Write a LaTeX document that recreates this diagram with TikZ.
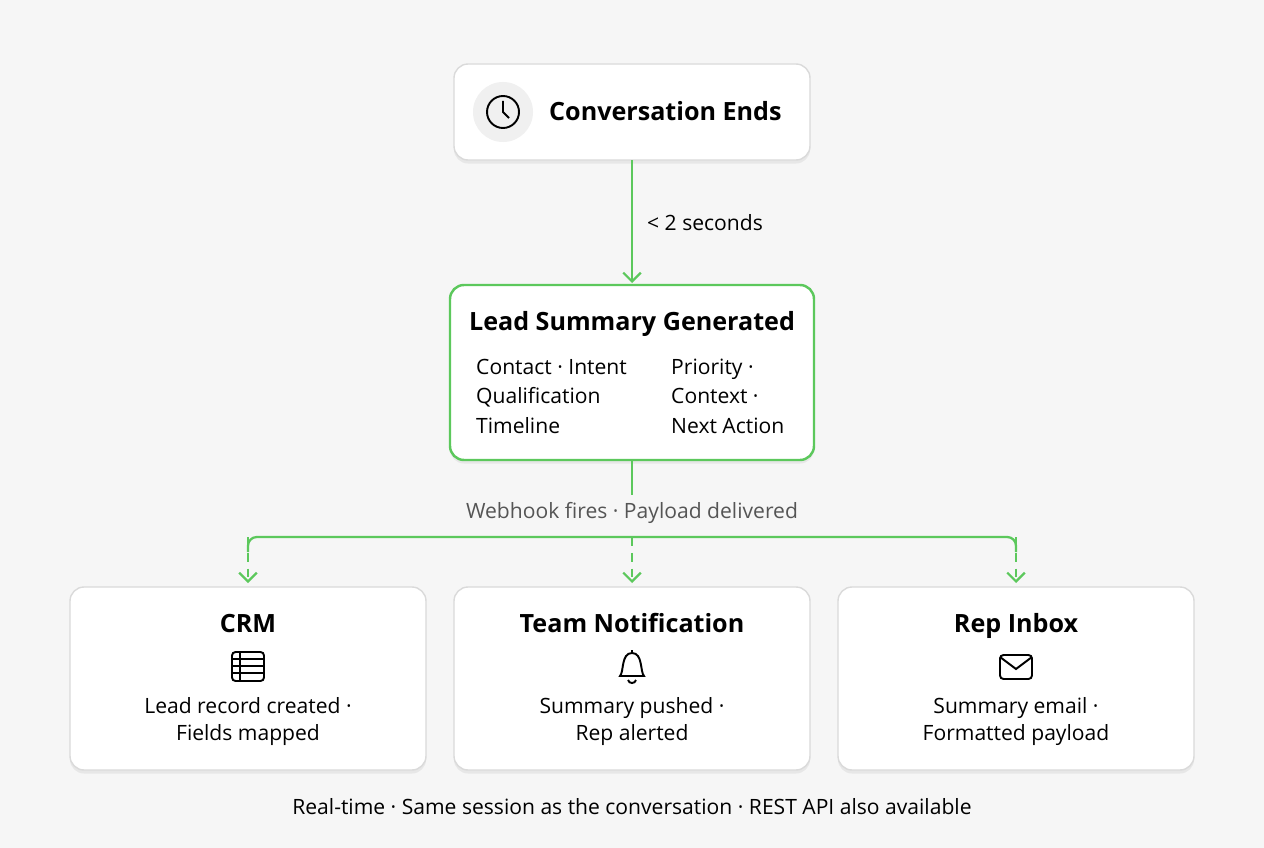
\documentclass[tikz,border=0pt]{standalone}
\usepackage{fontspec}
\setmainfont{Open Sans}
\usetikzlibrary{positioning,shadows,arrows.meta}
\definecolor{bggray}{HTML}{F6F6F6}
\definecolor{flowgreen}{HTML}{5CC85C}
\definecolor{boxline}{HTML}{DADADA}
\definecolor{subgray}{HTML}{555555}
\tikzset{
  card/.style={draw=boxline, fill=white, rounded corners=8pt, line width=0.8pt,
    drop shadow={opacity=0.12, shadow xshift=0pt, shadow yshift=-2pt}},
  greencard/.style={card, draw=flowgreen, line width=1.4pt},
  flow/.style={draw=flowgreen, line width=1.3pt},
  tip/.style={-{Straight Barb[length=5pt,width=10pt]}},
  title/.style={font=\fontsize{14.3}{17}\selectfont\bfseries, text height=2ex, text depth=0.5ex},
  txt/.style={font=\fontsize{12}{15}\selectfont, text height=1.8ex, text depth=0.5ex},
  body/.style={txt, align=left, anchor=west},
  icon/.style={line width=1.1pt, black}
}
\begin{document}
\begin{tikzpicture}[x=0.02cm,y=-0.02cm]
\fill[bggray] (0,0) rectangle (1264,848);

% top card
\path[card] (454,64) rectangle (810,160);
\fill[black!6] (503,112) circle (30);
\draw[icon] (503,112) circle (16);
\draw[icon] (503,101) -- (503,112) -- (509,118);
\node[title, anchor=west] (ends) at (543,113) {Conversation Ends};
\coordinate (endsbot) at (632,160);

% summary card
\path[greencard] (450,285) rectangle (814,460);
\node[title] (summary) at (632,323) {Lead Summary Generated};
\coordinate (sumtop) at (632,283);
\coordinate (sumbot) at (632,460);
\node[body] at (470,368) {Contact · Intent};
\node[body] at (470,397) {Qualification};
\node[body] at (470,427) {Timeline};
\node[body] at (665,368) {Priority ·};
\node[body] at (665,397) {Context ·};
\node[body] at (665,427) {Next Action};

\draw[flow,tip] (endsbot) -- (sumtop);
\node[body] (delay) at (641,224) {< 2 seconds};

% webhook split
\coordinate (split) at (632,495);
\draw[flow] (sumbot) -- (split);
\node[txt, text=subgray] (hook) at (632,512) {Webhook fires · Payload delivered};
\draw[flow, rounded corners=5pt] (248,552) -- (248,537) -- (1016,537) -- (1016,552);

% bottom cards
\foreach \cx/\name/\ttl/\la/\lb in {248/crm/CRM/Lead record created ·/Fields mapped,
    632/team/Team Notification/Summary pushed ·/Rep alerted,
    1016/inbox/Rep Inbox/Summary email ·/Formatted payload}{
  \path[card] (\cx-178,587) rectangle (\cx+178,770);
  \node[title] (\name) at (\cx,625) {\ttl};
  \node[txt] at (\cx,707) {\la};
  \node[txt] at (\cx,734) {\lb};
  \coordinate (\name top) at (\cx,583);
  \draw[flow, dashed, dash pattern=on 5pt off 4pt, tip] (\cx,537) -- (\name top);
}

% icons
\draw[icon, rounded corners=2pt] (232,652) rectangle (264,681);
\foreach \yy in {659,666,673} \draw[icon] (232,\yy) -- (264,\yy);
\draw[icon] (240,652) -- (240,681);
\draw[icon] (632,650) -- (632,653);
\draw[icon] (620,676) .. controls (624,672) and (621,653) .. (632,653)
  .. controls (643,653) and (640,672) .. (644,676) -- cycle;
\draw[icon] (628,680) .. controls (629,684) and (635,684) .. (636,680);
\draw[icon, rounded corners=2pt] (1000,655) rectangle (1032,679);
\draw[icon] (1000,657) -- (1016,669) -- (1032,657);

\node[txt] (note) at (632,808)
  {Real-time · Same session as the conversation · REST API also available};
\end{tikzpicture}
\end{document}
